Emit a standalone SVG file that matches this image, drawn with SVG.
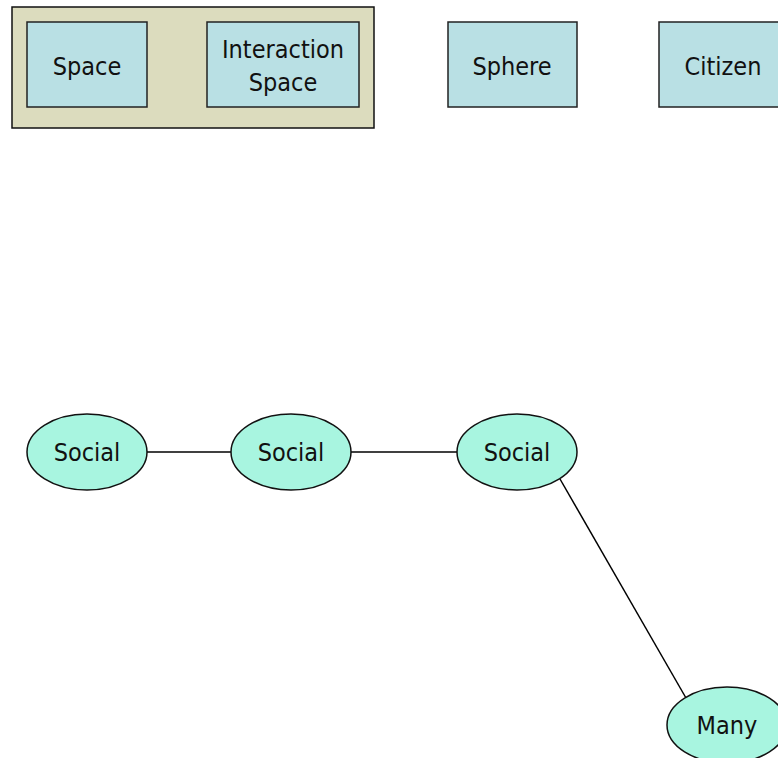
<svg xmlns="http://www.w3.org/2000/svg" width="778" height="758" viewBox="0 0 778 758">
<style>
.box{fill:#b9e0e4;stroke:#222;stroke-width:1.5}
.ell{fill:#a8f5e0;stroke:#111;stroke-width:1.5}
.grp{fill:#dcdcbe;stroke:#111;stroke-width:1.5}
text{font-family:"DejaVu Sans Condensed","DejaVu Sans","Liberation Sans",sans-serif;font-stretch:condensed;font-size:25px;fill:#111;text-anchor:middle}
.conn line{stroke:#000;stroke-width:1.5}
</style>
<rect width="778" height="758" fill="#fff"/>
<g id="container"><rect class="grp" x="12" y="7" width="362" height="121"/></g>
<g id="space"><rect class="box" x="27" y="22" width="120" height="85"/><text x="87" y="75">Space</text></g>
<g id="interaction-space"><rect class="box" x="207" y="22" width="152" height="85"/><text x="283" y="58">Interaction</text><text x="283" y="91">Space</text></g>
<g id="sphere"><rect class="box" x="448" y="22" width="129" height="85"/><text x="512" y="75">Sphere</text></g>
<g id="citizen"><rect class="box" x="659" y="22" width="130" height="85"/><text x="723" y="75">Citizen</text></g>
<g class="conn" id="connectors">
<line x1="147" y1="452" x2="231" y2="452"/>
<line x1="351" y1="452" x2="457" y2="452"/>
<line x1="560" y1="479" x2="686" y2="698"/>
</g>
<g id="social1"><ellipse class="ell" cx="87" cy="452" rx="60" ry="38"/><text x="87" y="461">Social</text></g>
<g id="social2"><ellipse class="ell" cx="291" cy="452" rx="60" ry="38"/><text x="291" y="461">Social</text></g>
<g id="social3"><ellipse class="ell" cx="517" cy="452" rx="60" ry="38"/><text x="517" y="461">Social</text></g>
<g id="many"><ellipse class="ell" cx="727" cy="725" rx="60" ry="38"/><text x="727" y="734">Many</text></g>
</svg>
